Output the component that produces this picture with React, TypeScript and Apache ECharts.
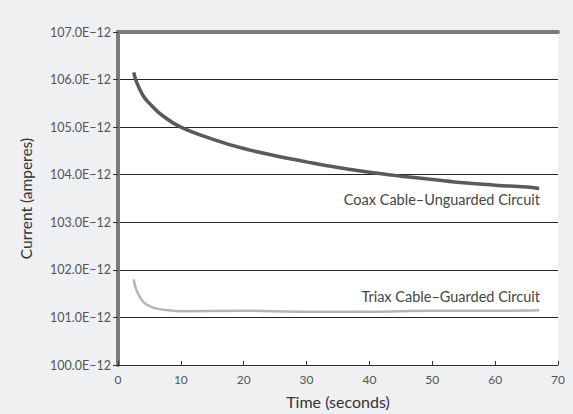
import React, { useEffect, useRef } from "react";
import * as echarts from "echarts";

const coaxTime = [2.5, 3, 4, 5, 7, 10, 15, 20, 25, 30, 35, 40, 45, 50, 55, 60, 65, 67];
const coaxCurrent = [106.15, 105.93, 105.66, 105.5, 105.25, 105.0, 104.75, 104.55, 104.4, 104.27, 104.15, 104.05, 103.97, 103.9, 103.83, 103.78, 103.74, 103.71];
const triaxTime = [2.5, 3, 4, 5, 6, 8, 10, 20, 30, 40, 50, 60, 67];
const triaxCurrent = [101.8, 101.55, 101.33, 101.24, 101.19, 101.15, 101.13, 101.14, 101.12, 101.12, 101.14, 101.14, 101.15];
const yTicks = [100, 101, 102, 103, 104, 105, 106, 107];
const xTicks = [0, 10, 20, 30, 40, 50, 60, 70];

const FONT = "Lato, 'Open Sans', sans-serif";

export default function App() {
  const ref = useRef<HTMLDivElement>(null);
  useEffect(() => {
    if (!ref.current) return;
    const chart = echarts.init(ref.current, undefined, { renderer: "svg" });
    const zip = (xs: number[], ys: number[]) => xs.map((x, i) => [x, ys[i]]);
    chart.setOption({
      animation: false,
      backgroundColor: "#eef0f1",
      grid: { left: 118, right: 15, top: 32, bottom: 49, show: true, backgroundColor: "#ffffff", borderWidth: 0 },
      xAxis: [
        {
          type: "value",
          min: xTicks[0],
          max: xTicks[xTicks.length - 1],
          interval: 10,
          name: "Time (seconds)",
          nameLocation: "middle",
          nameGap: 28,
          nameTextStyle: { fontFamily: FONT, fontSize: 16, color: "#333" },
          axisLine: { show: true, lineStyle: { color: "#333", width: 1 } },
          axisTick: { show: true, inside: true, length: 4, lineStyle: { color: "#333" } },
          axisLabel: { fontFamily: FONT, fontSize: 12, color: "#555", margin: 8 },
          splitLine: { show: false },
        },
        {
          type: "value",
          position: "top",
          min: 0,
          max: 70,
          axisLine: { show: true, onZero: false, lineStyle: { color: "#7a7a7a", width: 4 } },
          axisTick: { show: false },
          axisLabel: { show: false },
          splitLine: { show: false },
        },
      ],
      yAxis: {
        type: "value",
        min: yTicks[0],
        max: yTicks[yTicks.length - 1],
        interval: 1,
        name: "Current (amperes)",
        nameLocation: "middle",
        nameGap: 84,
        nameTextStyle: { fontFamily: FONT, fontSize: 15.5, color: "#333" },
        axisLine: { show: true, lineStyle: { color: "#7a7a7a", width: 4 } },
        axisTick: { show: true, length: 5, lineStyle: { color: "#333" } },
        axisLabel: {
          fontFamily: FONT,
          fontSize: 12.5,
          color: "#555",
          margin: 7,
          formatter: (v: number) => v.toFixed(1) + "E\u221212",
        },
        splitLine: { show: true, lineStyle: { color: "#222", width: 1 } },
      },
      series: [
        {
          type: "line",
          data: zip(coaxTime, coaxCurrent),
          smooth: 0.4,
          showSymbol: false,
          lineStyle: { color: "#5a5a5a", width: 3.5 },
          z: 5,
        },
        {
          type: "line",
          data: zip(triaxTime, triaxCurrent),
          smooth: 0.4,
          showSymbol: false,
          lineStyle: { color: "#b5b5b5", width: 2.5 },
          z: 4,
        },
      ],
      graphic: [
        {
          type: "text",
          right: 33,
          top: 192,
          style: { text: "Coax Cable\u2013Unguarded Circuit", fontFamily: FONT, fontSize: 14.5, fill: "#444" },
        },
        {
          type: "text",
          right: 33,
          top: 289,
          style: { text: "Triax Cable\u2013Guarded Circuit", fontFamily: FONT, fontSize: 14.5, fill: "#444" },
        },
      ],
    });
    return () => chart.dispose();
  }, []);
  return <div ref={ref} style={{ width: 573, height: 414, position: "absolute", left: 0, top: 0 }} />;
}
